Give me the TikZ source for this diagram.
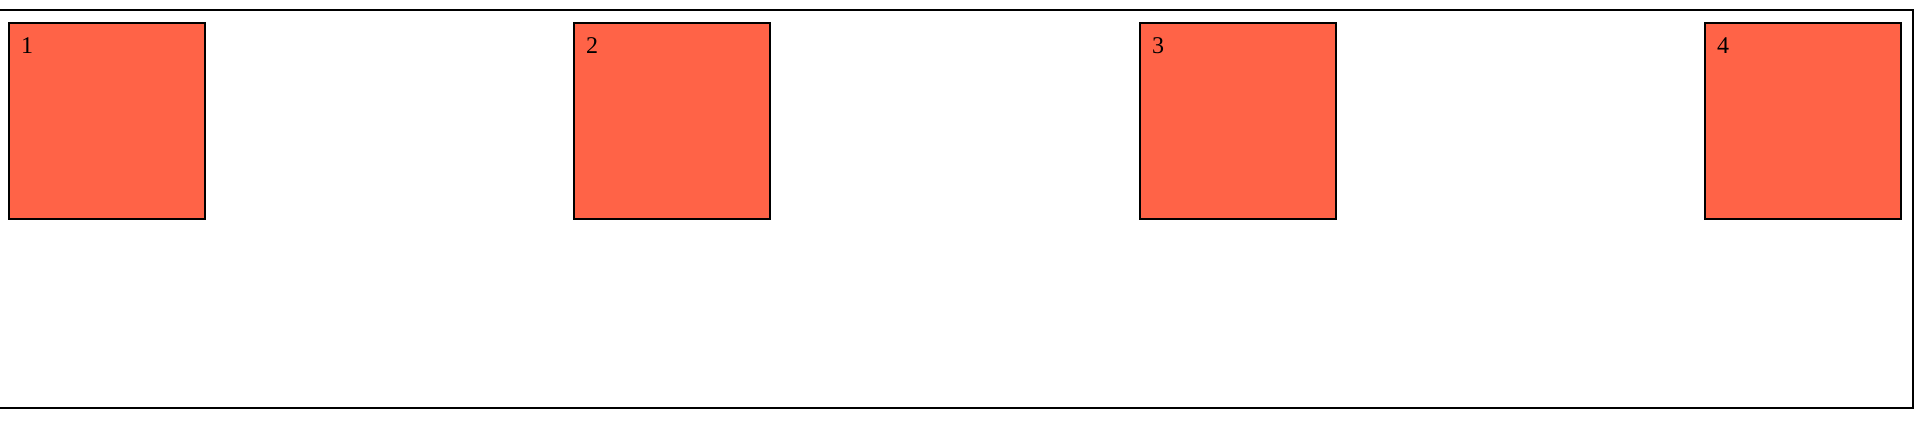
\documentclass[tikz,border=0pt]{standalone}
\usepackage{fontspec}
\setmainfont{Liberation Serif}
\definecolor{tomato}{HTML}{FF6347}
\begin{document}
\begin{tikzpicture}[x=1pt,y=-1pt,
  sq/.style={draw=black,line width=2pt,fill=tomato,minimum width=196pt,minimum height=196pt,inner sep=0pt,anchor=north west,outer sep=0pt},
  num/.style={anchor=base west,inner sep=0pt,font=\fontsize{24}{26}\selectfont}]
\useasboundingbox (0,0) rectangle (1914,428);
\draw[line width=1.8pt] (-1,10) rectangle (1913,408);
\foreach \i/\x in {1/9,2/574,3/1140,4/1705}{
  \node[sq] (b\i) at (\x,23) {};
  \node[num] (t\i) at ([xshift=12pt,yshift=-31pt]b\i.north west) {\i};
}
\end{tikzpicture}
\end{document}
